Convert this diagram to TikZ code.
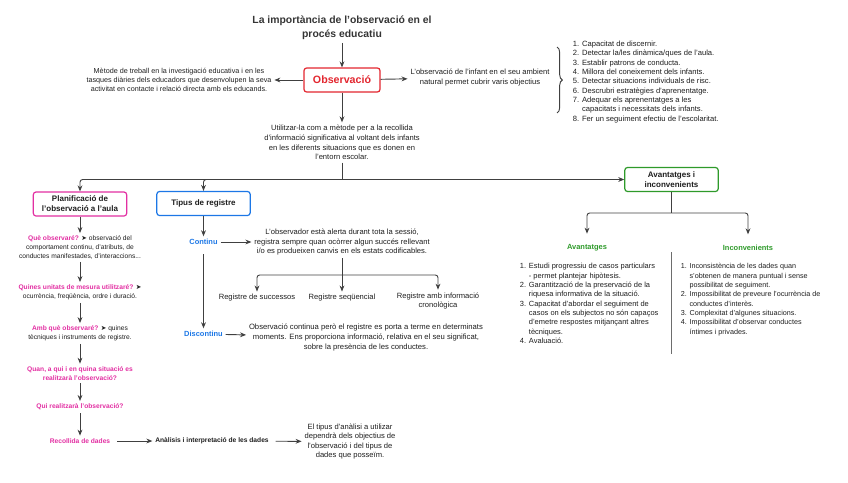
\documentclass[tikz,border=0pt]{standalone}
\usepackage{fontspec}
\setmainfont{Liberation Sans}
\newfontfamily\symfont{DejaVu Sans}
\usetikzlibrary{arrows.meta,positioning,decorations.pathreplacing}
\definecolor{obsred}{HTML}{E3262F}
\definecolor{planpink}{HTML}{E22FA2}
\definecolor{regblue}{HTML}{1C77E6}
\definecolor{avgreen}{HTML}{2E9A2A}
\definecolor{ink}{HTML}{1E1E1E}

\begin{document}
\begin{tikzpicture}[x=0.75pt, y=-0.75pt,
    every node/.style = {align=center, text=ink, inner sep=2pt},
    small/.style = {font=\fontsize{5.7}{7.2}\selectfont},
    tiny/.style = {font=\fontsize{5}{6.5}\selectfont},
    lst/.style = {align=left, anchor=west, font=\fontsize{#1}{7}\selectfont},
    box/.style = {draw=#1, rounded corners=2pt, line width=0.9pt, fill=white,
      minimum width=70pt, minimum height=18pt, font=\bfseries\fontsize{6}{7.4}\selectfont},
    pinktxt/.style = {text=planpink, font=\bfseries\fontsize{5}{6.6}\selectfont},
    head/.style = {text=#1, font=\bfseries\fontsize{5.6}{7}\selectfont},
    arr/.style = {-{Stealth[length=4.5pt,width=3.6pt]}, draw=ink!85, line width=0.7pt},
    link/.style = {draw=ink!85, line width=0.7pt}]
  \useasboundingbox (0,0) rectangle (848,482);

  % centre
  \node[font=\bfseries\fontsize{7.8}{10.5}\selectfont, text=ink!90] (title) at (342,28)
    {La importància de l'observació en el\\procés educatiu};
  \node[box=obsred, minimum width=57pt, font=\bfseries\fontsize{8}{9}\selectfont, text=obsred] (obs) at (342,80) {Observació};
  \node[font=\fontsize{5.4}{7}\selectfont] (obsleft) at (179,80) {Mètode de treball en la investigació educativa i en les\\tasques diàries dels educadors que desenvolupen la seva\\activitat en contacte i relació directa amb els educands.};
  \node[small] (obsright) at (480,77.5) {L'observació de l'infant en el seu ambient\\natural permet cubrir varis objectius};
  \node[small] (use) at (342,142.5) {Utilitzar-la com a mètode per a la recollida\\d'informació significativa al voltant dels infants\\en les diferents situacions que es donen en\\l'entorn escolar.};

  \draw[arr] (title) -- (obs);
  \draw[arr] (obs) -- (obsleft);
  \draw[arr] (obs) -- (obsright);
  \draw[arr] (obs) -- (use);

  % objectius
  \coordinate (btop) at (557,47);
  \coordinate (bbot) at (557,113);
  \draw[link, decorate, decoration={brace, amplitude=4pt}] (btop) -- (bbot);
  \node[lst=5.7] (goals) at (570,82) {1. Capacitat de discernir.\\2. Detectar la/les dinàmica/ques de l'aula.\\3. Establir patrons de conducta.\\4. Millora del coneixement dels infants.\\5. Detectar situacions individuals de risc.\\6. Descrubri estratègies d'aprenentatge.\\7. Adequar els aprenentatges a les\\\phantom{7. }capacitats i necessitats dels infants.\\8. Fer un seguiment efectiu de l'escolaritat.};

  % three branches
  \node[box=planpink] (plan) at (80,204) {Planificació de\\l'observació a l'aula};
  \node[box=regblue] (tipus) at (203.5,203.5) {Tipus de registre};
  \node[box=avgreen] (avant) at (671.5,179.5) {Avantatges i\\inconvenients};
  \coordinate (jn) at (342,179.5);
  \draw[link] (use) -- (jn);
  \draw[arr, rounded corners=2pt] (jn) -| (plan);
  \draw[arr, rounded corners=2pt] (jn) -| (tipus);
  \draw[arr] (jn) -- (avant);

  % planificacio
  \node[tiny] (q1) at (80,247.5) {{\color{planpink}\bfseries Què observaré?} {\symfont ➤} observació del\\comportament continu, d'atributs, de\\conductes manifestades, d'interaccions...};
  \node[tiny] (q2) at (80,292.5) {{\color{planpink}\bfseries Quines unitats de mesura utilitzaré?} {\symfont ➤}\\ocurrència, freqüència, ordre i duració.};
  \node[tiny] (q3) at (80,333.5) {{\color{planpink}\bfseries Amb què observaré?} {\symfont ➤} quines\\tècniques i instruments de registre.};
  \node[pinktxt] (q4) at (80,373.5) {Quan, a qui i en quina situació es\\realitzarà l'observació?};
  \node[pinktxt] (q5) at (80,407) {Qui realitzarà l'observació?};
  \node[pinktxt] (recollida) at (80,441) {Recollida de dades};
  \node[font=\bfseries\fontsize{5}{6.6}\selectfont] (analisi) at (212,441) {Anàlisis i interpretació de les dades};
  \node[small] (tipusanalisi) at (350,441.5) {El tipus d'anàlisi a utilizar\\dependrà dels objectius de\\l'observació i del tipus de\\dades que posseïm.};

  \draw[arr] (plan) -- (q1);
  \draw[arr] (q1) -- (q2);
  \draw[arr] (q2) -- (q3);
  \draw[arr] (q3) -- (q4);
  \draw[arr] (q4) -- (q5);
  \draw[arr] (q5) -- (recollida);
  \draw[arr, shorten <=3pt] (recollida) -- (analisi);
  \draw[arr, shorten <=3pt] (analisi) -- (tipusanalisi);

  % tipus de registre
  \node[head=regblue] (continu) at (203.5,242) {Continu};
  \node[small] (contxt) at (342,242) {L'observador està alerta durant tota la sessió,\\registra sempre quan ocòrrer algun succés rellevant\\i/o es produeixen canvis en els estats codificables.};
  \node[small] (regsucc) at (257,298) {Registre de successos};
  \node[small] (regseq) at (342,298) {Registre seqüencial};
  \node[small] (regcron) at (438,301) {Registre amb informació\\cronològica};
  \node[head=regblue] (discontinu) at (203.5,334) {Discontinu};
  \node[font=\fontsize{5.75}{7.5}\selectfont] (distxt) at (366,337.5) {Observació continua però el registre es porta a terme en determinats\\moments. Ens proporciona informació, relativa en el seu significat,\\sobre la presència de les conductes.};

  \draw[arr] (tipus) -- (continu);
  \draw[arr] (continu) -- (contxt);
  \coordinate (jc) at (342,275);
  \draw[link] (contxt) -- (jc);
  \draw[arr, rounded corners=2pt] (jc) -| (regsucc);
  \draw[arr] (jc) -- (regseq);
  \draw[arr, rounded corners=2pt] (jc) -| (regcron);
  \draw[arr, shorten <=5pt] (continu) -- (discontinu);
  \draw[arr] (discontinu) -- (distxt);

  % avantatges i inconvenients
  \node[head=avgreen] (avtitle) at (587,248) {Avantatges};
  \node[head=avgreen] (intitle) at (748,248) {Inconvenients};
  \coordinate (ja) at (671.5,213);
  \draw[link] (avant) -- (ja);
  \draw[arr, rounded corners=2pt, shorten >=6pt] (ja) -| (avtitle);
  \draw[arr, rounded corners=2pt, shorten >=6pt] (ja) -| (intitle);
  \coordinate (dtop) at (671,252);
  \coordinate (dbot) at (671,354);
  \draw[draw=ink!65, line width=0.7pt] (dtop) -- (dbot);
  \node[lst=5.6] (avlist) at (517,303.5) {1. Estudi progressiu de casos particulars\\\phantom{1. }- permet plantejar hipòtesis.\\2. Garantització de la preservació de la\\\phantom{2. }riquesa informativa de la situació.\\3. Capacitat d'abordar el seguiment de\\\phantom{3. }casos on els subjectos no són capaços\\\phantom{3. }d'emetre respostes mitjançant altres\\\phantom{3. }tècniques.\\4. Avaluació.};
  \node[lst=5.4] (inlist) at (678,299.5) {1. Inconsistència de les dades quan\\\phantom{1. }s'obtenen de manera puntual i sense\\\phantom{1. }possibilitat de seguiment.\\2. Impossibilitat de preveure l'ocurrència de\\\phantom{2. }conductes d'interès.\\3. Complexitat d'algunes situacions.\\4. Impossibilitat d'observar conductes\\\phantom{4. }íntimes i privades.};
\end{tikzpicture}
\end{document}
